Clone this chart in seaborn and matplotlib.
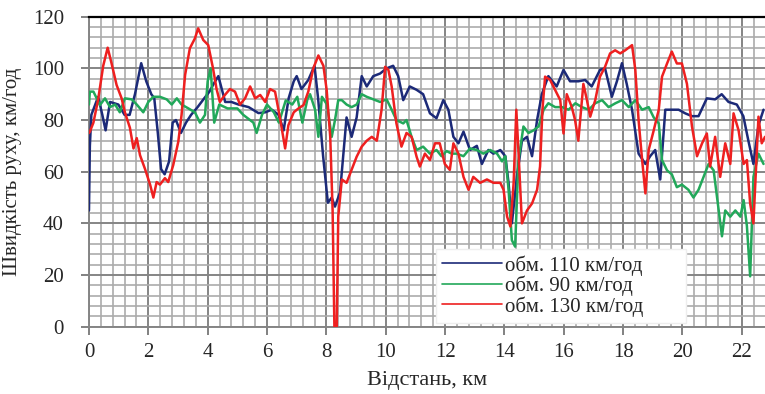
import matplotlib
matplotlib.use("Agg")
import matplotlib.pyplot as plt
from matplotlib.ticker import MultipleLocator
import numpy as np
import pandas as pd
import seaborn as sns
sns.set_theme(style="white")
plt.rcParams['font.family'] = ['Liberation Serif', 'DejaVu Serif']

# distance (km) and speed (km/h)
km_110 = [0.0, 0.03, 0.08, 0.31, 0.45, 0.56, 0.71, 0.99, 1.2, 1.37, 1.55, 1.76, 1.93, 2.1, 2.2, 2.32, 2.43, 2.55, 2.7, 2.82,
          2.93, 3.1, 3.27, 3.44, 3.66, 3.89, 4.06, 4.2, 4.36, 4.59, 4.8, 5.04, 5.38, 5.71, 5.94, 6.16, 6.39, 6.56, 6.73, 6.9,
          7.0, 7.16, 7.39, 7.6, 7.72, 7.89, 8.05, 8.18, 8.29, 8.46, 8.68, 8.85, 9.02, 9.19, 9.36, 9.58, 9.81, 10.03, 10.25, 10.42,
          10.59, 10.81, 11.04, 11.26, 11.49, 11.71, 11.94, 12.11, 12.28, 12.45, 12.62, 12.84, 13.07, 13.24, 13.46, 13.63, 13.86, 14.03, 14.14, 14.25,
          14.42, 14.59, 14.76, 14.93, 15.1, 15.26, 15.48, 15.76, 15.99, 16.21, 16.49, 16.72, 16.94, 17.22, 17.39, 17.62, 17.79, 17.96, 18.12, 18.3,
          18.52, 18.75, 18.91, 19.08, 19.25, 19.42, 19.64, 19.87, 20.09, 20.32, 20.54, 20.82, 21.1, 21.32, 21.55, 21.83, 22.05, 22.22, 22.39, 22.56,
          22.73]
v_110 = [45, 70, 82, 89, 82, 76, 87, 86, 82, 82, 90, 102, 95, 90, 88.5, 75, 61, 59, 64, 79,
         80, 75, 79, 82, 85, 88.5, 91, 94, 97, 87, 87, 86, 85, 82.7, 83, 84, 82, 76, 88.5, 95,
         97, 92, 95.5, 101, 88.5, 66, 48, 50, 46.5, 52, 81, 73.5, 81, 97, 93, 97, 98, 100, 101, 97,
         87.7, 93, 91.7, 90, 82.6, 80.7, 87.7, 84, 73.5, 71, 75.5, 68.4, 70, 63, 68.4, 67, 68.4, 66, 55.5, 40,
         58, 72, 73.5, 66, 80, 90, 97, 93, 99.4, 95, 95, 95.5, 93, 99.4, 100, 89, 95, 102, 94, 84,
         67, 63, 66, 68.4, 57, 84, 84, 84, 82.6, 81.5, 81.5, 88.4, 88, 90, 87, 86, 81.5, 72, 63, 78,
         84]

km_90 = [0.0, 0.03, 0.15, 0.37, 0.54, 0.71, 0.88, 1.04, 1.21, 1.44, 1.61, 1.83, 2.0, 2.17, 2.39, 2.62, 2.79, 2.96, 3.12, 3.35,
         3.57, 3.74, 3.91, 4.0, 4.1, 4.22, 4.39, 4.67, 5.0, 5.2, 5.54, 5.65, 5.83, 6.0, 6.23, 6.4, 6.63, 6.85, 7.02, 7.19,
         7.36, 7.45, 7.62, 7.73, 7.85, 8.02, 8.18, 8.29, 8.4, 8.52, 8.68, 8.85, 9.02, 9.19, 9.36, 9.58, 9.81, 10.03, 10.2, 10.36,
         10.59, 10.7, 10.87, 11.04, 11.26, 11.49, 11.71, 11.88, 12.05, 12.22, 12.39, 12.62, 12.84, 13.07, 13.29, 13.52, 13.75, 13.92, 14.03, 14.14,
         14.25, 14.36, 14.47, 14.64, 14.81, 14.98, 15.15, 15.32, 15.48, 15.71, 15.94, 16.16, 16.39, 16.61, 16.84, 17.06, 17.29, 17.51, 17.74, 17.96,
         18.19, 18.41, 18.64, 18.86, 19.03, 19.2, 19.31, 19.48, 19.64, 19.81, 19.98, 20.2, 20.37, 20.54, 20.71, 20.88, 21.05, 21.22, 21.33, 21.44,
         21.61, 21.78, 21.95, 22.06, 22.17, 22.28, 22.39, 22.56, 22.73]
v_90 = [86, 91, 91, 85.8, 88.4, 85, 86, 83, 88.4, 88, 86, 83, 87, 89, 89, 88, 86, 88.4, 86, 84.5,
        83, 79, 82, 95, 100, 79, 86, 84.5, 84.5, 82, 79, 75, 82, 86, 83, 79, 87.6, 86, 89, 79,
        88, 90, 84, 73.5, 89, 86, 73.5, 80, 87.7, 87.7, 86, 85, 86, 90, 89, 88, 87, 88, 84, 80,
        78.7, 80, 73.5, 68.4, 69.7, 67, 68.4, 66, 68, 67, 67, 66, 69, 68.4, 67, 68.4, 67, 64, 66, 53,
        33.5, 31, 64, 77.5, 75, 76, 77.5, 84, 86.5, 85, 85, 84, 86.5, 85, 84, 86.5, 87.7, 85, 86.5, 87.7,
        85, 87.7, 84, 85, 81, 78.7, 64.5, 60.5, 59, 54, 55, 53, 50, 53, 58, 63, 60.5, 45, 35, 45,
        42.6, 45, 42.6, 49, 39, 19.5, 58, 67, 63]

km_130 = [0.0, 0.03, 0.15, 0.31, 0.48, 0.63, 0.76, 0.93, 1.1, 1.21, 1.38, 1.5, 1.61, 1.72, 1.89, 2.06, 2.17, 2.28, 2.39, 2.56,
          2.67, 2.84, 3.01, 3.12, 3.24, 3.4, 3.57, 3.68, 3.85, 4.02, 4.18, 4.3, 4.41, 4.58, 4.75, 4.92, 5.09, 5.26, 5.43, 5.6,
          5.77, 5.94, 6.1, 6.27, 6.44, 6.61, 6.72, 6.9, 7.06, 7.23, 7.39, 7.56, 7.73, 7.9, 8.01, 8.13, 8.21, 8.27, 8.35, 8.4,
          8.52, 8.68, 8.85, 9.02, 9.19, 9.36, 9.53, 9.7, 9.86, 9.98, 10.09, 10.2, 10.36, 10.53, 10.7, 10.87, 11.04, 11.15, 11.32, 11.49,
          11.66, 11.82, 11.99, 12.16, 12.28, 12.45, 12.62, 12.79, 12.95, 13.18, 13.41, 13.63, 13.86, 13.97, 14.09, 14.2, 14.31, 14.4, 14.47, 14.59,
          14.76, 14.93, 15.1, 15.2, 15.28, 15.37, 15.54, 15.71, 15.88, 15.99, 16.1, 16.27, 16.38, 16.49, 16.66, 16.78, 16.89, 17.06, 17.22, 17.39,
          17.56, 17.73, 17.9, 18.07, 18.3, 18.41, 18.52, 18.64, 18.75, 18.86, 19.03, 19.2, 19.31, 19.48, 19.64, 19.81, 19.98, 20.15, 20.32, 20.49,
          20.66, 20.82, 20.93, 21.1, 21.27, 21.44, 21.61, 21.72, 21.89, 22.06, 22.17, 22.28, 22.39, 22.56, 22.67, 22.78]
v_130 = [75, 75.5, 79, 88, 101, 108, 102, 93.6, 88.4, 83, 77, 69, 73, 66.4, 61, 55, 50, 56, 55, 57.5,
         56, 62.6, 71.6, 82, 97.5, 107.8, 111.6, 115.5, 111, 109, 100, 92, 87, 89.7, 92, 91, 86, 88.4, 93, 88.4,
         89.7, 87, 92, 91, 80.6, 69, 78, 83, 84.5, 85.8, 91, 100, 105, 101, 91.6, 73.5, 45, 0, 0, 42.6,
         57, 55.7, 60.7, 65.8, 69.7, 72, 73.5, 72, 84, 100.6, 99.4, 93, 78.7, 69.7, 75, 73.5, 65.8, 62, 67, 64.5,
         71, 71, 63, 60.7, 71, 67, 58, 53, 58, 55.7, 57, 55.7, 55.7, 53, 42.6, 38.8, 55.7, 84, 68.4, 40,
         45, 47.7, 53, 62, 84, 96.8, 95.5, 91.6, 87.7, 74.8, 90, 85, 80, 72, 94, 87.7, 81.3, 87.7, 96.8, 100.6,
         105.8, 107, 105.8, 107, 109, 99.4, 80, 64.5, 51.6, 68.4, 76, 84, 96.8, 101.9, 106.5, 101.9, 101.9, 94, 77.5, 66,
         71, 74.8, 62, 73.5, 58, 71, 63, 82.6, 76, 63, 64.5, 47.7, 40, 81.3, 71, 73.5]

labels = ["обм. 110 км/год", "обм. 90 км/год", "обм. 130 км/год"]
colors = ["#1c2a78", "#22a85a", "#ee2020"]

df = pd.concat([
    pd.DataFrame({"km": km_110, "speed": v_110, "series": labels[0]}),
    pd.DataFrame({"km": km_90, "speed": v_90, "series": labels[1]}),
    pd.DataFrame({"km": km_130, "speed": v_130, "series": labels[2]}),
], ignore_index=True)

fig = plt.figure(figsize=(7.65, 3.94), dpi=100)
ax = fig.add_axes([0.1163, 0.1708, 0.8837, 0.7868])

sns.lineplot(data=df, x="km", y="speed", hue="series", palette=colors, estimator=None,
             sort=False, linewidth=1.8, ax=ax, zorder=3)

ax.set_xlim(0, 22.78)
ax.set_ylim(0, 120)
ax.xaxis.set_major_locator(MultipleLocator(2))
ax.xaxis.set_minor_locator(MultipleLocator(0.4))
ax.yaxis.set_major_locator(MultipleLocator(20))
ax.yaxis.set_minor_locator(MultipleLocator(4))
ax.grid(which="minor", color="#ababab", linewidth=1.2, zorder=0)
ax.grid(which="major", color="#858585", linewidth=1.4, zorder=1)
ax.set_axisbelow(True)

ax.tick_params(which="major", direction="out", length=6, width=1.3, color="#777777",
               labelsize=15, pad=6, bottom=True, left=True)
ax.tick_params(axis="y", pad=12)
ax.tick_params(which="minor", length=0)

for s in ["left", "bottom"]:
    ax.spines[s].set_color("#858585")
    ax.spines[s].set_linewidth(1.4)
ax.spines["right"].set_visible(False)
ax.spines["top"].set_color("black")
ax.spines["top"].set_linewidth(1.6)

ax.set_xlabel("Відстань, км", fontsize=16, labelpad=6)
ax.set_ylabel("Швидкість руху, км/год", fontsize=15, labelpad=8)

handles, lbls = ax.get_legend_handles_labels()
for h in handles:
    h.set_linewidth(1.2)
leg = ax.legend(handles, lbls, loc="lower left", bbox_to_anchor=(0.513, 0.012, 0.37, 0.2),
                mode="expand", fontsize=15, frameon=True, fancybox=False, handlelength=2.9,
                handletextpad=0.1, labelspacing=0.0, borderpad=0.3, borderaxespad=0)
leg.get_frame().set_facecolor("white")
leg.get_frame().set_edgecolor("#eeeeee")
leg.get_frame().set_alpha(1)

fig.savefig("out.png", dpi=100)
